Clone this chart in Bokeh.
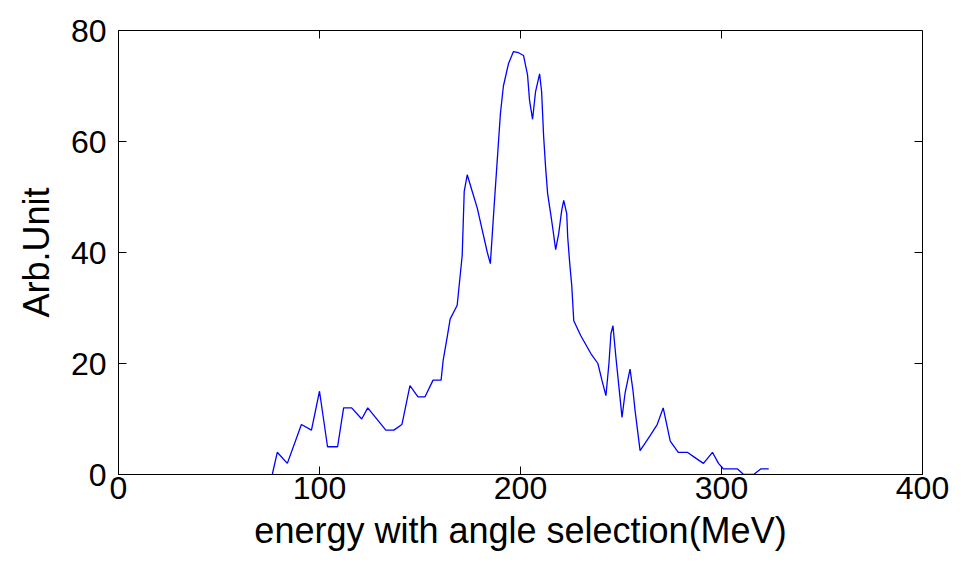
from bokeh.plotting import figure
from bokeh.models import Range1d, FixedTicker
from bokeh.embed import file_html
from bokeh.resources import INLINE

energy = [76.5, 79, 84, 91, 96, 100, 104, 109, 112, 116, 121, 124, 133, 137, 141,
          145, 149, 152.5, 156.5, 160.5, 161.5, 163.5, 165, 168.5, 171, 172, 173.5,
          176, 178.5, 181, 183.5, 185, 187, 188.5, 190, 191.5, 194, 196.5, 199,
          201.5, 203.5, 204.5, 206, 207.5, 209.5, 210.5, 211.5, 212.5, 213.5, 215,
          216, 217.5, 219, 220.5, 221.5, 223, 223.5, 224.5, 225.5, 226.5, 230,
          235, 238.5, 240.5, 242.5, 244, 245, 246, 247.5, 249, 250.5, 252, 254.5,
          256, 257, 259.5, 264.5, 268, 271, 274.5, 278.5, 283, 287, 291, 295.5,
          298.5, 301, 308, 311, 316, 319.5, 323.5]
counts = [0, 4, 2, 9, 8, 15, 5, 5, 12, 12, 10, 12, 8, 8, 9,
          16, 14, 14, 17, 17, 20.5, 24.7, 28, 30.5, 39.5, 51, 54,
          51, 48, 44, 40, 38, 49, 57, 65, 70, 74, 76.2, 76,
          75.5, 72, 67.4, 64, 69, 72.2, 69, 61, 55.3, 50.6, 47,
          44.5, 40.5, 43.4, 47.6, 49.4, 47, 42.7, 38, 34, 27.7, 25,
          21.8, 20, 17, 14.2, 20, 25.4, 26.8, 21, 15.7, 10.3, 14.6, 19,
          15, 11.5, 4.3, 7, 9, 12, 6, 4, 4, 3, 2, 4,
          2, 1, 1, 0, 0, 1, 1]
x_ticks = [0, 100, 200, 300, 400]
y_ticks = [0, 20, 40, 60, 80]

FONT = "Liberation Sans"
TICK_FS = "32px"
LABEL_FS = "36px"
X0, X1, Y0, Y1 = 0, 400, 0, 80

p = figure(width=964, height=566, output_backend="svg", toolbar_location=None,
           x_range=Range1d(X0, X1), y_range=Range1d(Y0, Y1),
           min_border_left=118, min_border_right=42, min_border_top=30,
           min_border_bottom=92)
p.background_fill_color = "white"
p.border_fill_color = "white"
p.outline_line_color = "black"
p.xgrid.visible = False
p.ygrid.visible = False

p.line(energy, counts, line_color="#0000ff", line_width=1.3)

for ax, ticks in ((p.xaxis[0], x_ticks), (p.yaxis[0], y_ticks)):
    ax.ticker = FixedTicker(ticks=ticks)
    ax.major_tick_in = 8
    ax.major_tick_out = 0
    ax.minor_tick_line_color = None
    ax.major_label_text_font = FONT
    ax.major_label_text_font_size = TICK_FS
    ax.major_label_text_color = "black"
    ax.axis_label_text_font = FONT
    ax.axis_label_text_font_size = LABEL_FS
    ax.axis_label_text_font_style = "normal"
    ax.axis_label_text_color = "black"
    ax.axis_line_color = "black"
    ax.major_tick_line_color = "black"

p.xaxis[0].axis_label = "energy with angle selection(MeV)"
p.yaxis[0].axis_label = "Arb.Unit"
p.xaxis[0].major_label_standoff = 2
p.xaxis[0].axis_label_standoff = 8
p.yaxis[0].major_label_standoff = 12
p.yaxis[0].axis_label_standoff = 11

# inward ticks on the top and right edges of the box (MATLAB style)
tick_dx = (X1 - X0) * 8 / 804.0
tick_dy = (Y1 - Y0) * 8 / 444.0
p.segment(x0=x_ticks, y0=[Y1] * len(x_ticks), x1=x_ticks,
          y1=[Y1 - tick_dy] * len(x_ticks), line_color="black", line_width=1)
p.segment(x0=[X1] * len(y_ticks), y0=y_ticks, x1=[X1 - tick_dx] * len(y_ticks),
          y1=y_ticks, line_color="black", line_width=1)

open("out.html", "w").write(file_html(p, INLINE))
